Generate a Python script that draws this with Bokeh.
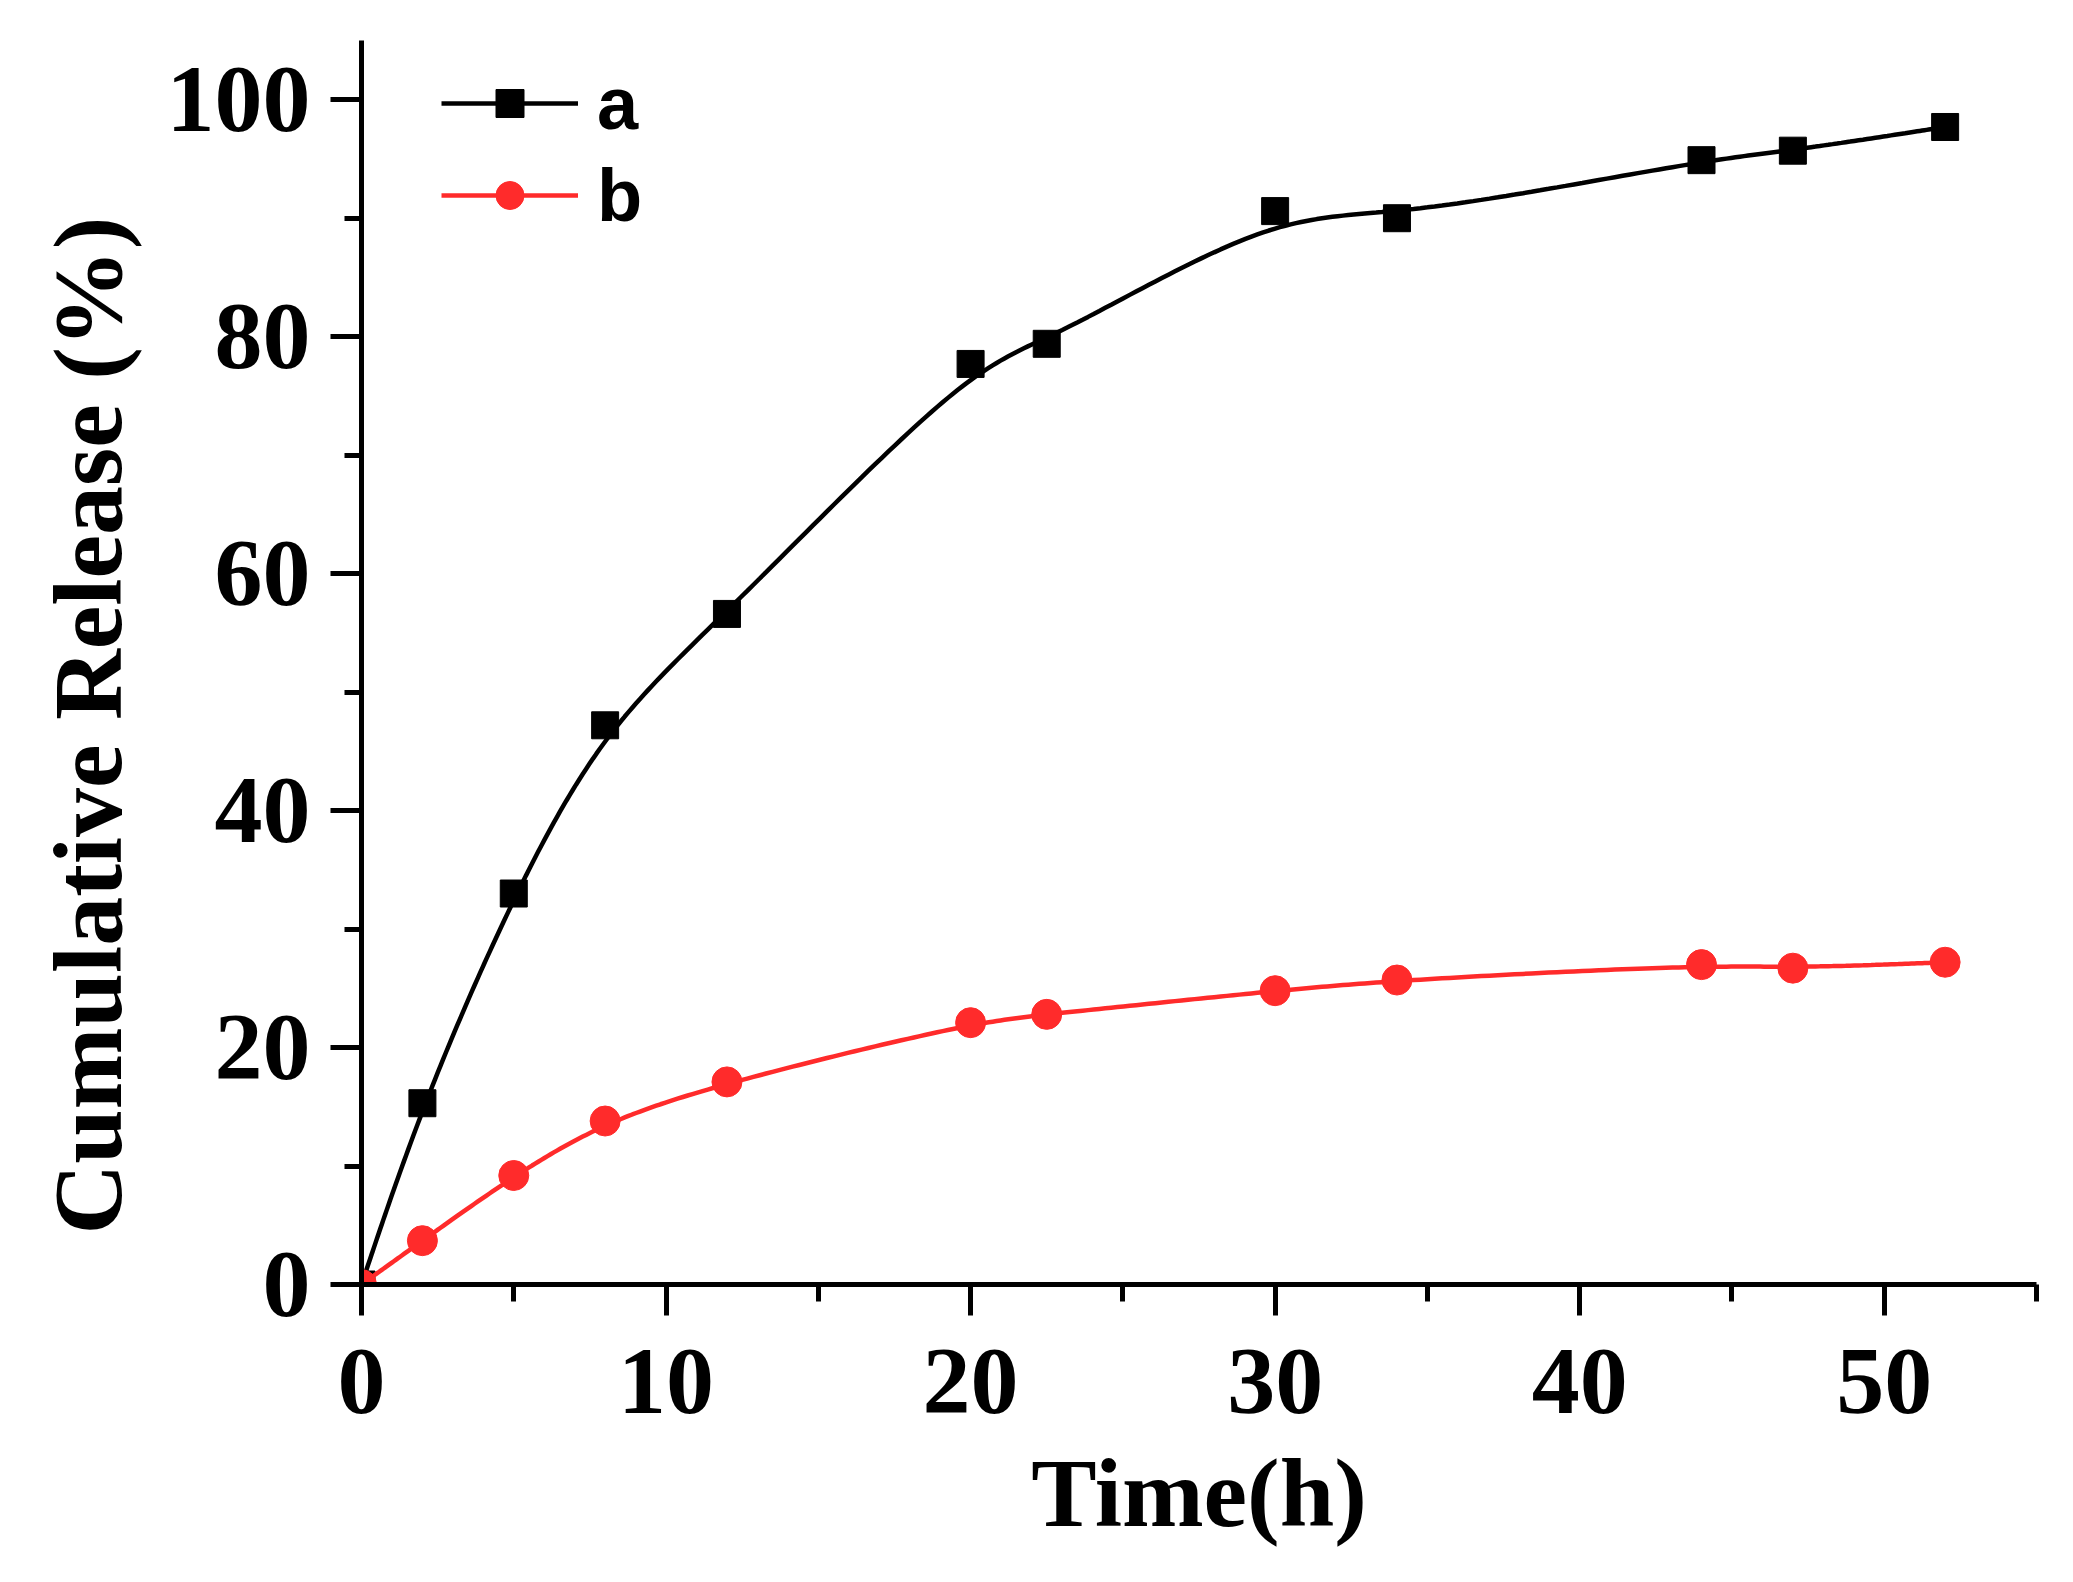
import numpy as np
from bokeh.plotting import figure
from bokeh.models import Range1d, SingleIntervalTicker, Legend, LegendItem, Title
from bokeh.embed import file_html
from bokeh.resources import INLINE

# ---- data ----
time_h = [0, 2, 5, 8, 12, 20, 22.5, 30, 34, 44, 47, 52]
release_a = [0, 15.3, 33.0, 47.2, 56.6, 77.7, 79.4, 90.6, 90.0, 94.9, 95.7, 97.7]
release_b = [0, 3.7, 9.2, 13.8, 17.1, 22.1, 22.8, 24.8, 25.7, 27.0, 26.7, 27.2]
series_labels = ["a", "b"]
x_title = "Time(h)"
y_title = "Cumulative Release (%)"


def bspline(xs, ys, n=30):
    """Clamped cubic B-spline using the data points as control points
    (the 'B-Spline' connect style of the original plot), for display only."""
    P = np.column_stack([np.asarray(xs, float), np.asarray(ys, float)])
    P = np.vstack([P[:1], P[:1], P, P[-1:], P[-1:]])
    t = np.linspace(0, 1, n, endpoint=False)[:, None]
    b0 = (1 - t) ** 3 / 6
    b1 = (3 * t ** 3 - 6 * t ** 2 + 4) / 6
    b2 = (-3 * t ** 3 + 3 * t ** 2 + 3 * t + 1) / 6
    b3 = t ** 3 / 6
    segs = []
    for i in range(len(P) - 3):
        segs.append(b0 * P[i] + b1 * P[i + 1] + b2 * P[i + 2] + b3 * P[i + 3])
    segs.append(P[-1:])
    c = np.vstack(segs)
    return c[:, 0], c[:, 1]


RED = "#ff2b2b"
SERIF = "Liberation Serif"
SANS = "Liberation Sans"

p = figure(width=2057, height=1566, output_backend="svg", toolbar_location=None,
           x_range=Range1d(0, 55), y_range=Range1d(0, 105))
p.min_border_left = 361
p.min_border_right = 21
p.min_border_top = 40
p.min_border_bottom = 282
p.outline_line_color = None
p.xgrid.visible = False
p.ygrid.visible = False
p.background_fill_color = "white"
p.border_fill_color = "white"

for ax, interval in ((p.xaxis[0], 10), (p.yaxis[0], 20)):
    ax.ticker = SingleIntervalTicker(interval=interval, num_minor_ticks=2)
    ax.axis_line_width = 5
    ax.axis_line_color = "black"
    ax.major_tick_line_width = 5
    ax.minor_tick_line_width = 5
    ax.major_tick_line_color = "black"
    ax.minor_tick_line_color = "black"
    ax.major_tick_in = 0
    ax.minor_tick_in = 0
    ax.major_tick_out = 31
    ax.minor_tick_out = 17
    ax.major_label_text_font = SERIF
    ax.major_label_text_font_style = "bold"
    ax.major_label_text_font_size = "96px"
    ax.major_label_text_color = "black"

p.xaxis.major_label_standoff = 34
p.yaxis.major_label_standoff = 20

p.xaxis.axis_label = x_title
p.xaxis.axis_label_text_font = SERIF
p.xaxis.axis_label_text_font_style = "bold"
p.xaxis.axis_label_text_font_size = "98px"
p.xaxis.axis_label_text_color = "black"
p.xaxis.axis_label_standoff = 23

ytitle = Title(text=y_title, align="left", offset=50, standoff=44,
               text_font=SERIF, text_font_style="bold", text_font_size="98px",
               text_color="black")
p.add_layout(ytitle, "left")

# curves
xa, ya = bspline(time_h, release_a)
xb, yb = bspline(time_h, release_b)
la = p.line(xa, ya, line_color="black", line_width=4.5)
sa = p.scatter(time_h, release_a, marker="square", size=27, fill_color="black", line_color="black")
lb = p.line(xb, yb, line_color=RED, line_width=4.5)
sb = p.scatter(time_h, release_b, marker="circle", size=30, fill_color=RED, line_color=RED)

legend = Legend(items=[LegendItem(label=series_labels[0], renderers=[la, sa]),
                       LegendItem(label=series_labels[1], renderers=[lb, sb])],
                location=(80, 1244 - 17 - 184))
legend.border_line_color = None
legend.background_fill_alpha = 0
legend.margin = 0
legend.padding = 0
legend.spacing = 0
legend.glyph_width = 137
legend.glyph_height = 70
legend.label_height = 92
legend.label_standoff = 19
legend.label_text_font = SANS
legend.label_text_font_style = "bold"
legend.label_text_font_size = "74px"
legend.label_text_color = "black"
legend.label_text_baseline = "middle"
p.add_layout(legend)

open("out.html", "w").write(file_html(p, INLINE))
